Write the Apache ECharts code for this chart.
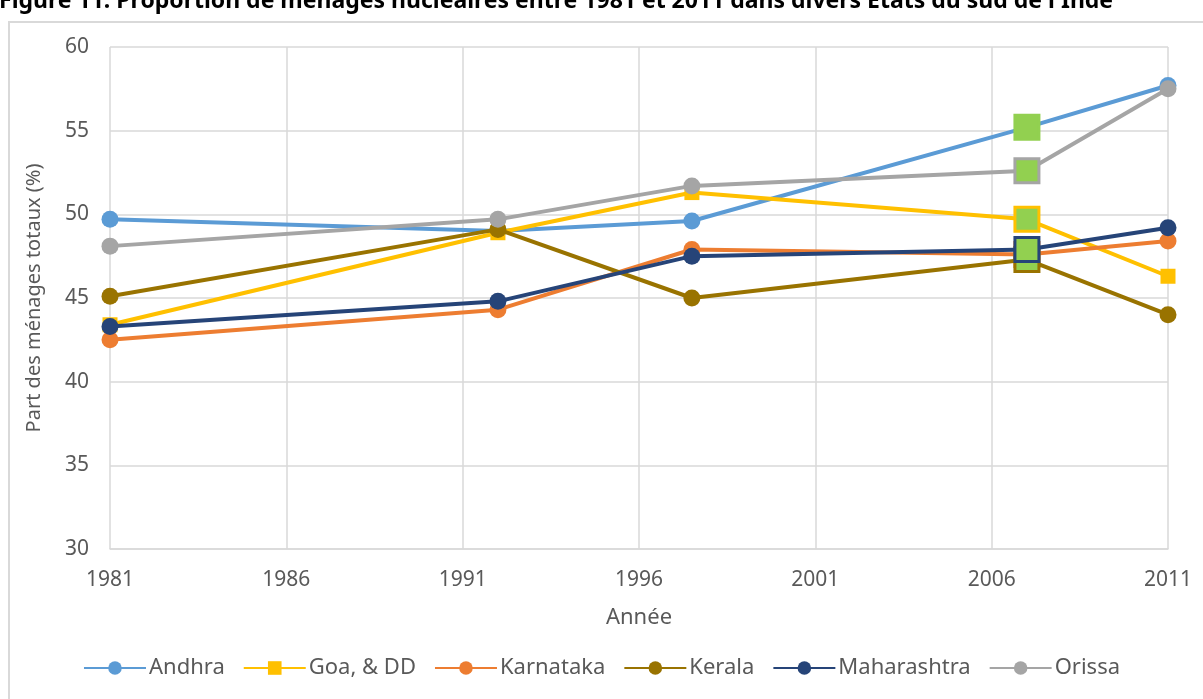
<!DOCTYPE html>
<html>
<head>
<meta charset="utf-8">
<script src="https://cdn.jsdelivr.net/npm/echarts@6/dist/echarts.min.js"></script>
<style>
  html, body { margin: 0; padding: 0; background: #fff; }
  #chart { width: 1203px; height: 699px; }
</style>
</head>
<body>
<div id="chart"></div>
<script>
// données
var years = [1981, 1992, 1997.5, 2007, 2011];
var andhra = [49.7, 49.0, 49.6, 55.2, 57.7];
var goa = [43.4, 48.9, 51.3, 49.7, 46.3];
var karnataka = [42.5, 44.3, 47.9, 47.6, 48.4];
var kerala = [45.1, 49.1, 45.0, 47.3, 44.0];
var maharashtra = [43.3, 44.8, 47.5, 47.9, 49.2];
var orissa = [48.1, 49.7, 51.7, 52.6, 57.5];

var names = ['Andhra', 'Goa, & DD', 'Karnataka', 'Kerala', 'Maharashtra', 'Orissa'];
var values = [andhra, goa, karnataka, kerala, maharashtra, orissa];
var colors = ['#5B9BD5', '#FFC000', '#ED7D31', '#997300', '#264478', '#A5A5A5'];
var symbols = ['circle', 'rect', 'circle', 'circle', 'circle', 'circle'];
var highlightYear = 2007;

var chart = echarts.init(document.getElementById('chart'));

var series = names.map(function (name, i) {
    return {
        name: name,
        type: 'line',
        symbol: symbols[i],
        symbolSize: symbols[i] == 'rect' ? 15 : 17,
        color: colors[i],
        lineStyle: { width: 4 },
        z: 2 + i,
        data: years.map(function (y, j) {
            var d = { value: [y, values[i][j]] };
            // le point 2007 est marqué en vert dans l'original
            if (y == highlightYear) {
                d.symbol = 'rect';
                d.symbolSize = 24;
                d.itemStyle = {
                    color: '#92D050',
                    borderColor: i == 0 ? '#92D050' : colors[i],
                    borderWidth: 3
                };
            }
            return d;
        })
    };
});

var option = {
    backgroundColor: '#fff',
    animation: false,
    textStyle: { fontFamily: 'Noto Sans' },
    graphic: [{
        type: 'rect',
        shape: { x: 9, y: 22, width: 1210, height: 700 },
        style: { fill: 'none', stroke: '#d9d9d9', lineWidth: 2 },
        silent: true
    }, {
        type: 'text',
        left: -1,
        top: -10,
        style: {
            text: 'Figure 11: Proportion de ménages nucléaires entre 1981 et 2011 dans divers États du sud de l\'Inde',
            font: 'bold 23px "Liberation Sans Narrow", "Noto Sans"',
            fill: '#000'
        }
    }],
    grid: { left: 110, right: 35, top: 47, bottom: 150 },
    legend: {
        bottom: 15,
        left: 'center',
        itemWidth: 62,
        itemHeight: 17,
        itemGap: 18,
        textStyle: { fontSize: 22, color: '#595959', fontFamily: 'Noto Sans', padding: [0, 0, 0, -2] },
        data: names
    },
    xAxis: {
        type: 'value',
        min: 1981,
        max: 2011,
        interval: 5,
        name: 'Année',
        nameLocation: 'middle',
        nameGap: 58,
        nameTextStyle: { fontSize: 22, color: '#595959' },
        axisLine: { show: true, lineStyle: { color: '#d9d9d9', width: 1.5 } },
        axisTick: { show: false },
        axisLabel: {
            fontSize: 21, color: '#595959', margin: 21,
            formatter: function (v) { return String(v); }
        },
        splitLine: { show: true, lineStyle: { color: '#d9d9d9', width: 1.5 } }
    },
    yAxis: {
        type: 'value',
        min: 30,
        max: 60,
        interval: 5,
        name: 'Part des ménages totaux (%)',
        nameLocation: 'middle',
        nameGap: 66,
        nameTextStyle: { fontSize: 20, color: '#595959' },
        axisLine: { show: false },
        axisTick: { show: false },
        axisLabel: { fontSize: 21, color: '#595959', margin: 21 },
        splitLine: { show: true, lineStyle: { color: '#d9d9d9', width: 1.5 } }
    },
    series: series
};
chart.setOption(option);
</script>
</body>
</html>
